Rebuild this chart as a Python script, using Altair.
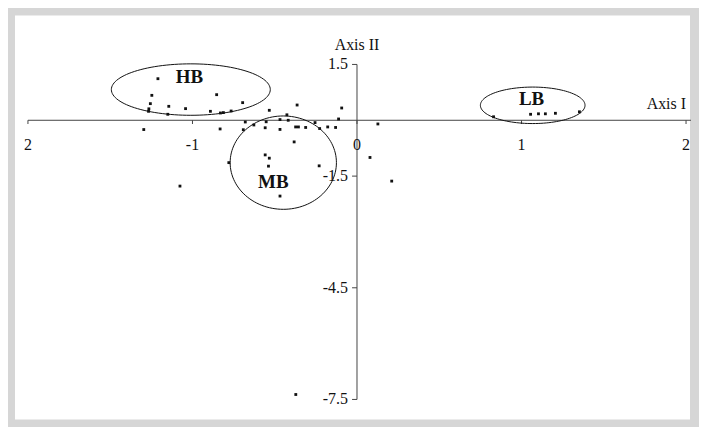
import altair as alt
import pandas as pd
import numpy as np

# --- point data (Axis I, Axis II) ---
axis1 = [-1.210, -1.247, -1.256, -1.265, -1.267, -1.144, -1.042, -1.150, -0.853, -0.695,
         -0.891, -0.830, -0.812, -0.765, -0.533, -0.364, -0.093, -0.426, -0.468, -0.418,
         -0.112, -0.679, -0.627, -0.691, -0.552, -0.558, -0.468, -0.373, -0.356, -0.312,
         -0.255, -0.227, -0.178, -0.130, 0.127, -1.296, -0.832, -0.382, -0.558, -0.533,
         -0.538, -0.779, -0.230, 0.079, -1.076, -0.468, 0.211, -0.372, 0.830, 1.055,
         1.103, 1.145, 1.206, 1.352]
axis2 = [1.117, 0.670, 0.447, 0.308, 0.241, 0.375, 0.313, 0.161, 0.688, 0.474,
         0.241, 0.196, 0.206, 0.249, 0.268, 0.410, 0.330, 0.147, 0.019, 0.000,
         0.035, -0.046, -0.126, -0.254, -0.040, -0.201, -0.246, -0.179, -0.179, -0.193,
         -0.062, -0.222, -0.179, -0.193, -0.099, -0.249, -0.233, -0.581, -0.930, -1.018,
         -1.232, -1.138, -1.224, -0.999, -1.768, -2.036, -1.634, -7.367, 0.094, 0.161,
         0.174, 0.174, 0.188, 0.228]

# --- group ellipses (centre, radii) and labels ---
groups = ["HB", "MB", "LB"]
ell_cx = [-1.010, -0.448, 1.068]
ell_cy = [0.825, -1.138, 0.402]
ell_rx = [0.483, 0.323, 0.318]
ell_ry = [0.691, 1.254, 0.490]
lab_x = [-1.018, -0.509, 1.061]
lab_y = [1.152, -1.661, 0.563]

# --- axis ticks / labels ---
x_ticks = [-2, -1, 0, 1, 2]
x_tick_labels = ["2", "-1", "0", "1", "2"]
y_ticks = [1.5, -1.5, -4.5, -7.5]
y_tick_labels = ["1.5", "-1.5", "-4.5", "-7.5"]

FONT = "Liberation Serif"
xs = alt.Scale(domain=[-2.0788, 2.0242], nice=False, zero=False)
ys = alt.Scale(domain=[-8.0364, 2.8127], nice=False, zero=False)


def X(f):
    return alt.X(f, type="quantitative", scale=xs, axis=None)


def Y(f):
    return alt.Y(f, type="quantitative", scale=ys, axis=None)


pts = pd.DataFrame({"a1": axis1, "a2": axis2})

rows = []
for g, cx, cy, rx, ry in zip(groups, ell_cx, ell_cy, ell_rx, ell_ry):
    for i, t in enumerate(np.linspace(0, 2 * np.pi, 121)):
        rows.append({"g": g, "i": i, "x": cx + rx * np.cos(t), "y": cy + ry * np.sin(t)})
ell = pd.DataFrame(rows)

labs = pd.DataFrame({"g": groups, "x": lab_x, "y": lab_y})

axes_df = pd.DataFrame({"x": [-2.0, 0.0], "x2": [2.03, 0.0], "y": [0.0, -7.5], "y2": [0.0, 1.5]})
xt = pd.DataFrame({"x": x_ticks, "lab": x_tick_labels, "y": [0.0] * 5, "y2": [-0.1] * 5})
yt = pd.DataFrame({"y": y_ticks, "lab": y_tick_labels, "x": [-0.03] * 4, "x2": [0.0] * 4})
titles = pd.DataFrame({"x": [0.0], "y": [1.5], "t": ["Axis II"]})
titles2 = pd.DataFrame({"x": [2.0], "y": [0.0], "t": ["Axis I"]})

axis_lines = alt.Chart(axes_df).mark_rule(color="#444", strokeWidth=1).encode(
    x=X("x"), x2="x2", y=Y("y"), y2="y2")
xtick_rules = alt.Chart(xt).mark_rule(color="#444", strokeWidth=1).encode(
    x=X("x"), y=Y("y"), y2="y2")
ytick_rules = alt.Chart(yt).mark_rule(color="#444", strokeWidth=1).encode(
    x=X("x"), x2="x2", y=Y("y"))
xtick_text = alt.Chart(xt).mark_text(font=FONT, fontSize=16, dy=25, color="#111").encode(
    x=X("x"), y=Y("y"), text="lab")
ytick_text = alt.Chart(yt).mark_text(font=FONT, fontSize=16, dx=-9, align="right",
                                     baseline="middle", color="#111").encode(
    x=alt.X("x2", type="quantitative", scale=xs, axis=None), y=Y("y"), text="lab")
t1 = alt.Chart(titles).mark_text(font=FONT, fontSize=16, dy=-19, color="#111").encode(
    x=X("x"), y=Y("y"), text="t")
t2 = alt.Chart(titles2).mark_text(font=FONT, fontSize=16, dy=-16, align="right", color="#111").encode(
    x=X("x"), y=Y("y"), text="t")

points = alt.Chart(pts).mark_square(size=8, color="#111", opacity=1).encode(x=X("a1"), y=Y("a2"))

ellipses = alt.Chart(ell).mark_line(color="#111", strokeWidth=1).encode(
    x=X("x"), y=Y("y"), detail="g:N", order="i:Q")

glabels = alt.Chart(labs).mark_text(font=FONT, fontSize=19, fontWeight="bold", color="#111").encode(
    x=X("x"), y=Y("y"), text="g")

chart = alt.layer(axis_lines, xtick_rules, ytick_rules, xtick_text, ytick_text, t1, t2,
                  ellipses, points, glabels).properties(
    width=677, height=405, padding=7, background="#d6d6d6"
).configure_view(fill="white", stroke=None)

chart.save("out.html", embed_options={"renderer": "svg", "actions": False})
